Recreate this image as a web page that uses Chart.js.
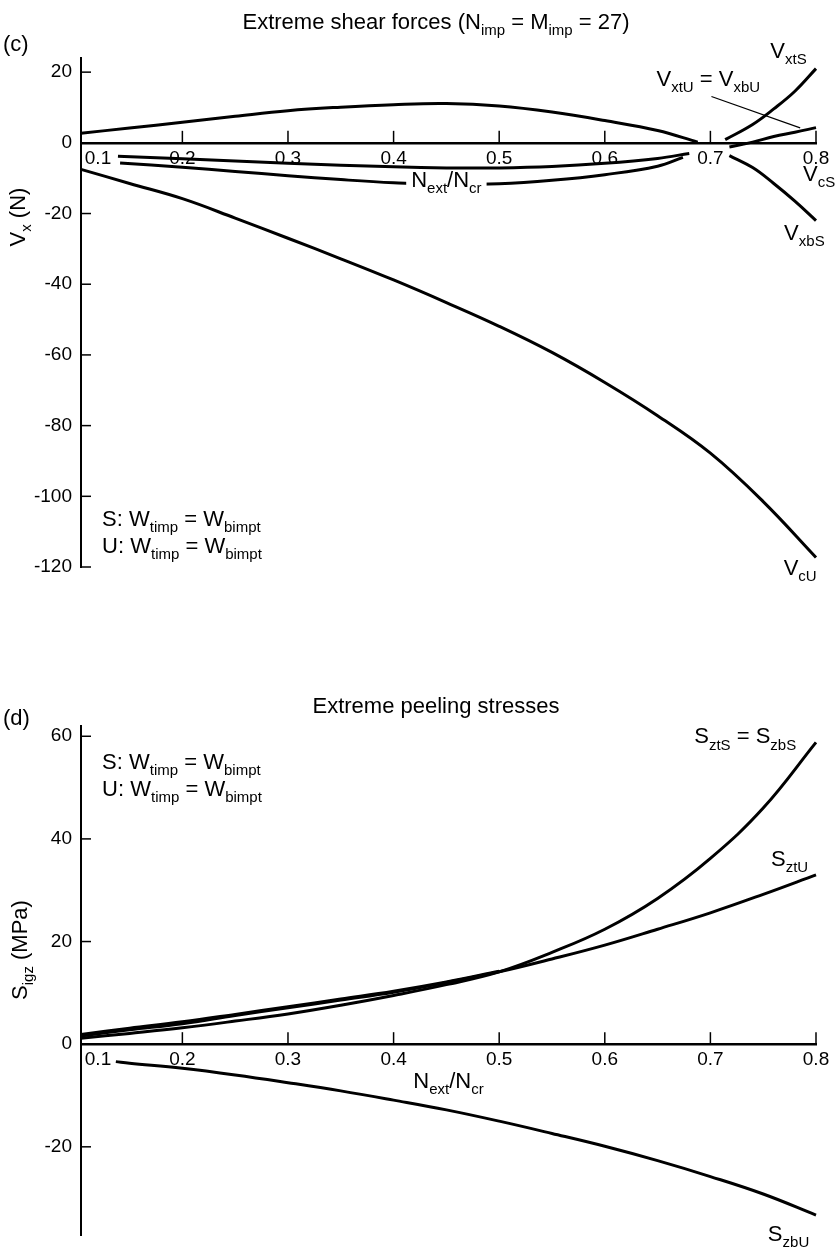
<!DOCTYPE html>
<html>
<head>
<meta charset="utf-8">
<script src="https://cdn.jsdelivr.net/npm/chart.js@4.4.1/dist/chart.umd.min.js"></script>
<style>
  body { margin: 0; background: #fff; }
  #wrap { position: relative; width: 838px; height: 1256px; }
  canvas { position: absolute; left: 0; }
  #shear { top: 0; }
  #peel { top: 640px; }
</style>
</head>
<body>
<div id="wrap">
  <canvas id="shear" width="838" height="640"></canvas>
  <canvas id="peel" width="838" height="616"></canvas>
</div>
<script>
// ---- data (x = Next/Ncr) ----
const xTickMarks = [0.2, 0.3, 0.4, 0.5, 0.6, 0.7, 0.8];
const xTickLabels = [0.1, 0.2, 0.3, 0.4, 0.5, 0.6, 0.7, 0.8];
const shearYTicks = [-120, -100, -80, -60, -40, -20, 0, 20];
const peelYTicks = [-20, 0, 20, 40, 60];

// (c) shear forces, N
const humpX = [0.104, 0.15, 0.2, 0.25, 0.3, 0.35, 0.4, 0.45, 0.5, 0.55, 0.6, 0.65, 0.688];
const humpY = [2.7, 4.2, 5.8, 7.5, 9.1, 10.1, 10.8, 11.1, 10.4, 8.7, 6.3, 3.5, 0.2];
const lowAX = [0.139, 0.2, 0.3, 0.4, 0.45, 0.5, 0.55, 0.6, 0.65, 0.68];
const lowAY = [-3.8, -4.5, -5.8, -6.8, -7.1, -7.1, -6.7, -5.8, -4.4, -3.0];
const lowBX = [0.141, 0.2, 0.25, 0.3, 0.35, 0.4, 0.45, 0.5, 0.55, 0.6, 0.65, 0.674];
const lowBY = [-5.7, -6.9, -8.1, -9.3, -10.4, -11.3, -11.8, -11.6, -10.6, -9.0, -6.6, -4.1];
const vxtsX = [0.714, 0.74, 0.76, 0.78, 0.8];
const vxtsY = [0.9, 5.2, 9.6, 14.6, 21];
const vxtuX = [0.718, 0.74, 0.76, 0.78, 0.8];
const vxtuY = [-1.2, 0.2, 1.8, 3.0, 4.3];
const vxbsX = [0.718, 0.74, 0.76, 0.78, 0.8];
const vxbsY = [-3.6, -7, -11.5, -16.5, -22];
const vcuX = [0.104, 0.15, 0.2, 0.25, 0.3, 0.35, 0.4, 0.45, 0.5, 0.55, 0.6, 0.65, 0.7, 0.75, 0.8];
const vcuY = [-7.5, -11.5, -15.8, -21.3, -27, -32.8, -38.8, -45.2, -51.9, -59.3, -67.8, -77.2, -87.8, -101.5, -117.3];

// (d) peeling stresses, MPa
const peelX = [0.104, 0.15, 0.2, 0.25, 0.3, 0.35, 0.4, 0.45, 0.5, 0.55, 0.6, 0.65, 0.7, 0.75, 0.8];
const sztsY = [1.15, 2.1, 3.2, 4.5, 5.9, 7.6, 9.5, 11.6, 14.1, 17.9, 22.4, 28.4, 36.2, 46, 58.8];
const sztuY = [1.6, 2.8, 4.0, 5.6, 7.1, 8.6, 10.1, 12.0, 14.1, 16.6, 19.3, 22.4, 25.6, 29.2, 33];
const thirdX = [0.104, 0.15, 0.2, 0.25, 0.3, 0.35, 0.4, 0.45, 0.5];
const thirdY = [1.9, 3.1, 4.35, 5.8, 7.3, 8.8, 10.3, 12.1, 14.2];
const szbuX = [0.137, 0.15, 0.2, 0.25, 0.3, 0.35, 0.4, 0.45, 0.5, 0.55, 0.6, 0.65, 0.7, 0.75, 0.8];
const szbuY = [-3.4, -3.7, -4.7, -6.0, -7.5, -9.1, -10.9, -12.8, -15.0, -17.4, -19.9, -22.7, -25.8, -29.2, -33.3];

const FONT = '"Liberation Sans", Arial, Helvetica, sans-serif';
const LABEL_SIZE = 22;
const TICK_SIZE = 19;

// labels placed in data units (x, y = baseline)
const shearNotes = [
  { text: 'V_{xtS}', x: 0.774, y: 24.0, align: 'center' },
  { text: 'V_{xtU} = V_{xbU}', x: 0.698, y: 16.1, align: 'center' },
  { text: 'V_{cS}', x: 0.803, y: -10.8, align: 'center' },
  { text: 'V_{xbS}', x: 0.789, y: -27.5, align: 'center' },
  { text: 'V_{cU}', x: 0.785, y: -122.3, align: 'center' },
  { text: 'S: W_{timp} = W_{bimpt}', x: 0.124, y: -108.4, align: 'left' },
  { text: 'U: W_{timp} = W_{bimpt}', x: 0.124, y: -116.0, align: 'left' }
];
const peelNotes = [
  { text: 'S_{ztS} = S_{zbS}', x: 0.733, y: 58.6, align: 'center' },
  { text: 'S_{ztU}', x: 0.775, y: 34.8, align: 'center' },
  { text: 'S_{zbU}', x: 0.774, y: -38.4, align: 'center' },
  { text: 'S: W_{timp} = W_{bimpt}', x: 0.124, y: 53.6, align: 'left' },
  { text: 'U: W_{timp} = W_{bimpt}', x: 0.124, y: 48.4, align: 'left' },
  { text: 'N_{ext}/N_{cr}', x: 0.452, y: -8.5, align: 'center' }
];

function splitSubs(str) {
  const out = [];
  const re = /_\{([^}]*)\}/g;
  let last = 0, m;
  while ((m = re.exec(str))) {
    if (m.index > last) out.push([str.slice(last, m.index), false]);
    out.push([m[1], true]);
    last = re.lastIndex;
  }
  if (last < str.length) out.push([str.slice(last), false]);
  return out;
}

function richWidth(ctx, str, size) {
  const sub = Math.round(size * 0.7);
  let w = 0;
  splitSubs(str).forEach(p => {
    ctx.font = (p[1] ? sub : size) + 'px ' + FONT;
    w += ctx.measureText(p[0]).width;
  });
  return w;
}

// draw text with subscripts, y is the baseline
function richText(ctx, str, x, y, size, align) {
  const sub = Math.round(size * 0.7);
  const w = richWidth(ctx, str, size);
  let cx = align === 'center' ? x - w / 2 : (align === 'right' ? x - w : x);
  ctx.textAlign = 'left';
  ctx.textBaseline = 'alphabetic';
  ctx.fillStyle = '#000';
  splitSubs(str).forEach(p => {
    ctx.font = (p[1] ? sub : size) + 'px ' + FONT;
    ctx.fillText(p[0], cx, y + (p[1] ? size * 0.28 : 0));
    cx += ctx.measureText(p[0]).width;
  });
  return w;
}

function series(xs, ys) {
  return {
    data: xs.map((x, i) => ({ x: x, y: ys[i] })),
    borderColor: '#000',
    borderWidth: 3,
    pointRadius: 0,
    tension: 0.4,
    clip: false
  };
}

function axesPlugin(opts) {
  return {
    id: 'axesAndNotes',
    afterDraw(chart) {
      const ctx = chart.ctx;
      const xs = chart.scales.x, ys = chart.scales.y;
      const area = chart.chartArea;
      const y0 = ys.getPixelForValue(0);
      ctx.save();
      ctx.strokeStyle = '#000';
      ctx.lineWidth = 1.5;
      // y tick marks point inward
      opts.yTicks.forEach(v => {
        const py = ys.getPixelForValue(v);
        ctx.beginPath();
        ctx.moveTo(area.left, py);
        ctx.lineTo(area.left + 10, py);
        ctx.stroke();
      });
      // x tick marks point up from the zero line
      xTickMarks.forEach(v => {
        const px = xs.getPixelForValue(v);
        ctx.beginPath();
        ctx.moveTo(px, y0);
        ctx.lineTo(px, y0 - 12);
        ctx.stroke();
      });
      // x tick labels under the zero line
      ctx.font = TICK_SIZE + 'px ' + FONT;
      ctx.fillStyle = '#000';
      ctx.textAlign = 'center';
      ctx.textBaseline = 'top';
      xTickLabels.forEach(v => {
        const px = Math.max(xs.getPixelForValue(v), area.left + 17);
        ctx.fillText(v.toFixed(1), px, y0 + 6);
      });

      if (opts.gapLabel) {
        const g = opts.gapLabel;
        const px = xs.getPixelForValue(g.x), py = ys.getPixelForValue(g.y);
        const w = richWidth(ctx, g.text, LABEL_SIZE);
        ctx.fillStyle = '#fff';
        ctx.fillRect(px - w / 2 - 5, py - 17, w + 10, 26);
        richText(ctx, g.text, px, py, LABEL_SIZE, 'center');
      }
      if (opts.leader) {
        const l = opts.leader;
        ctx.lineWidth = 1.2;
        ctx.beginPath();
        ctx.moveTo(xs.getPixelForValue(l[0]), ys.getPixelForValue(l[1]));
        ctx.lineTo(xs.getPixelForValue(l[2]), ys.getPixelForValue(l[3]));
        ctx.stroke();
      }
      opts.notes.forEach(n => {
        richText(ctx, n.text, xs.getPixelForValue(n.x), ys.getPixelForValue(n.y), LABEL_SIZE, n.align);
      });

      // panel title, panel letter, y axis title
      richText(ctx, opts.title, 436, opts.titleY, LABEL_SIZE, 'center');
      ctx.font = LABEL_SIZE + 'px ' + FONT;
      ctx.fillStyle = '#000';
      ctx.textAlign = 'left';
      ctx.textBaseline = 'alphabetic';
      ctx.fillText(opts.letter, 3, opts.letterY);
      ctx.save();
      ctx.translate(opts.yTitleX, opts.yTitleY);
      ctx.rotate(-Math.PI / 2);
      richText(ctx, opts.yTitle, 0, 0, LABEL_SIZE, 'center');
      ctx.restore();
      ctx.restore();
    }
  };
}

function makePanel(id, datasets, yMin, yMax, yTicks, pad, plug) {
  return new Chart(document.getElementById(id), {
    type: 'line',
    data: { datasets: datasets },
    options: {
      responsive: false,
      animation: false,
      events: [],
      layout: { padding: pad },
      plugins: { legend: { display: false }, tooltip: { enabled: false } },
      scales: {
        x: {
          type: 'linear', min: 0.104, max: 0.8,
          position: { y: 0 },
          grid: { display: false, drawTicks: false },
          border: { color: '#000', width: 2.5 },
          ticks: { display: false },
          afterFit: s => { s.height = 0; }
        },
        y: {
          type: 'linear', min: yMin, max: yMax,
          grid: { display: false, drawTicks: false },
          border: { color: '#000', width: 2 },
          ticks: { color: '#000', padding: 9, font: { family: FONT, size: TICK_SIZE } },
          afterBuildTicks: s => { s.ticks = yTicks.map(v => ({ value: v })); },
          afterFit: s => { s.width = 81; }
        }
      }
    },
    plugins: [plug]
  });
}

makePanel('shear', [
  series(humpX, humpY), series(lowAX, lowAY), series(lowBX, lowBY),
  series(vxtsX, vxtsY), series(vxtuX, vxtuY), series(vxbsX, vxbsY), series(vcuX, vcuY)
], -120, 24, shearYTicks, { top: 58, bottom: 73, left: 0, right: 22 }, axesPlugin({
  yTicks: shearYTicks,
  notes: shearNotes,
  gapLabel: { text: 'N_{ext}/N_{cr}', x: 0.45, y: -12.5 },
  leader: [0.701, 13.1, 0.785, 4.25],
  title: 'Extreme shear forces (N_{imp} = M_{imp} = 27)', titleY: 29,
  letter: '(c)', letterY: 51,
  yTitle: 'V_{x} (N)', yTitleX: 25, yTitleY: 217
}));

makePanel('peel', [
  series(peelX, sztsY), series(peelX, sztuY), series(thirdX, thirdY), series(szbuX, szbuY)
], -37.3, 62, peelYTicks, { top: 86, bottom: 12, left: 0, right: 22 }, axesPlugin({
  yTicks: peelYTicks,
  notes: peelNotes,
  gapLabel: null,
  leader: null,
  title: 'Extreme peeling stresses', titleY: 73,
  letter: '(d)', letterY: 85,
  yTitle: 'S_{igz} (MPa)', yTitleX: 27, yTitleY: 310
}));
</script>
</body>
</html>
